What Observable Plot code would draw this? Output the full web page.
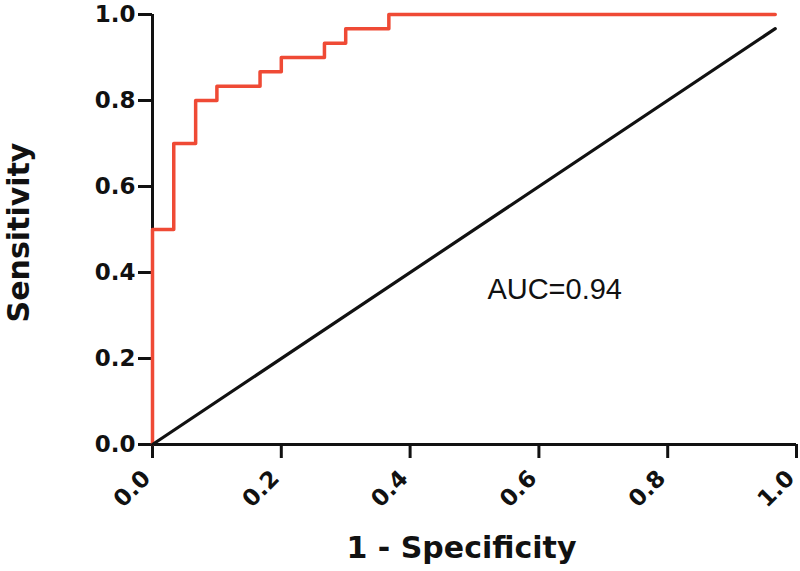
<!DOCTYPE html>
<html>
<head>
<meta charset="utf-8">
<script src="https://cdn.jsdelivr.net/npm/d3@7"></script>
<script src="https://cdn.jsdelivr.net/npm/@observablehq/plot@0.6"></script>
<style>
  html, body { margin: 0; padding: 0; background: #fff; }
  #chart svg { display: block; }
  #chart [aria-label="x-axis tick label"], #chart [aria-label="y-axis tick label"] {
    font-family: "DejaVu Sans", sans-serif; font-weight: bold; font-size: 23px; fill: #111;
  }
  #chart .axis-title {
    font-family: "DejaVu Sans", sans-serif; font-weight: bold; font-size: 30px; fill: #111;
  }
  #chart .auc {
    font-family: "Liberation Sans", Arial, sans-serif; font-size: 29px; fill: #111;
  }
</style>
</head>
<body>
<div id="chart"></div>
<script>
// ROC curve corner points (1 - specificity, sensitivity), step-after
const rocFpr = [0, 0, 0.033, 0.067, 0.1, 0.167, 0.2, 0.267, 0.3, 0.367, 0.967];
const rocTpr = [0, 0.5, 0.7, 0.8, 0.833, 0.867, 0.9, 0.933, 0.967, 1.0, 1.0];
// Reference (chance) diagonal
const refX = [0, 0.967];
const refY = [0, 0.967];
const tickValues = [0, 0.2, 0.4, 0.6, 0.8, 1.0];
const xTitle = ["1 - Specificity"];
const yTitle = ["Sensitivity"];
const aucLabel = ["AUC=0.94"];
const aucPos = [0.52, 0.36];

const roc = rocFpr.map((x, i) => ({x, y: rocTpr[i]}));
const ref = refX.map((x, i) => ({x, y: refY[i]}));
const fmt = d3.format(".1f");

const chart = Plot.plot({
  width: 800,
  height: 571,
  marginLeft: 152,
  marginRight: 4,
  marginTop: 14,
  marginBottom: 127,
  style: {background: "#fff", color: "#111"},
  x: {domain: [0, 1]},
  y: {domain: [0, 1]},
  marks: [
    Plot.axisY({ticks: tickValues, tickFormat: fmt, tickSize: 14, tickPadding: 3,
      strokeWidth: 3, label: null}),
    // x tick marks only
    Plot.axisX({ticks: tickValues, tickFormat: () => "", tickSize: 14, strokeWidth: 3, label: null}),
    // x tick labels, rotated
    Plot.axisX({ticks: tickValues, tickFormat: fmt, tickSize: 0, tickPadding: 24,
      tickRotate: -45, label: null, dx: -6, dy: 6}),
    Plot.text(yTitle, {frameAnchor: "left", rotate: -90, textAnchor: "middle", dx: -133, dy: 3,
      className: "axis-title", text: d => d}),
    Plot.text(xTitle, {frameAnchor: "bottom", dy: 113, dx: -13, className: "axis-title", text: d => d}),
    Plot.ruleX([0], {y1: 0, y2: 1, stroke: "#111", strokeWidth: 3}),
    Plot.ruleY([0], {x1: 0, x2: 1, stroke: "#111", strokeWidth: 3}),
    Plot.line(roc, {x: "x", y: "y", curve: "step-after", stroke: "#ef4a35", strokeWidth: 3.5}),
    Plot.line(ref, {x: "x", y: "y", stroke: "#111", strokeWidth: 3.2}),
    Plot.text(aucLabel, {x: [aucPos[0]], y: [aucPos[1]], text: d => d, textAnchor: "start", className: "auc"})
  ]
});
document.getElementById("chart").appendChild(chart);
</script>
</body>
</html>
